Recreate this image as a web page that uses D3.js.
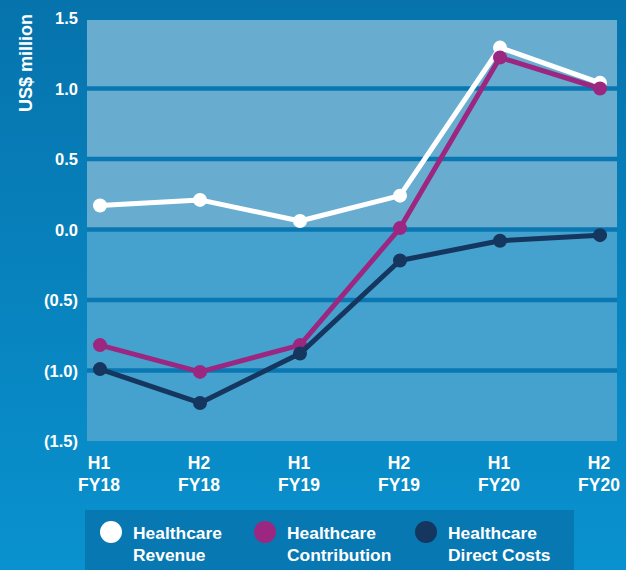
<!DOCTYPE html>
<html>
<head>
<meta charset="utf-8">
<script src="https://cdn.jsdelivr.net/npm/d3@7"></script>
<style>
  body { margin: 0; }
  svg { display: block; font-family: "Liberation Sans", Arial, sans-serif; }
</style>
</head>
<body>
<svg class="container"></svg>
<script>
const periods = ["H1 FY18", "H2 FY18", "H1 FY19", "H2 FY19", "H1 FY20", "H2 FY20"];
const revenue = [0.17, 0.21, 0.06, 0.24, 1.29, 1.04];
const contribution = [-0.82, -1.01, -0.82, 0.01, 1.22, 1.0];
const directCosts = [-0.99, -1.23, -0.88, -0.22, -0.08, -0.04];
const yTicks = [1.5, 1.0, 0.5, 0.0, -0.5, -1.0, -1.5];
const legendNames = [["Healthcare", "Revenue"], ["Healthcare", "Contribution"], ["Healthcare", "Direct Costs"]];

const width = 626;
const height = 570;

const svg = d3.select(".container").attr("width", width).attr("height", height);

// background gradient
const defs = svg.append("defs");
const bg = defs.append("linearGradient").attr("id", "bg").attr("x1", 0).attr("y1", 0).attr("x2", 0).attr("y2", 1);
bg.append("stop").attr("offset", "0%").attr("stop-color", "#0673ac");
bg.append("stop").attr("offset", "100%").attr("stop-color", "#0992cf");

svg.append("rect").attr("width", width).attr("height", height).attr("fill", "url(#bg)");

const xScale = d3.scalePoint().domain(periods).range([100, 600]);
const yScale = d3.scaleLinear().domain([-1.5, 1.5]).range([441, 18]);

const left = 87, right = 617;

// plot panels
svg.append("rect")
  .attr("x", left).attr("y", 20)
  .attr("width", right - left).attr("height", yScale(0) - 20)
  .attr("fill", "#68add0");
svg.append("rect")
  .attr("x", left).attr("y", yScale(0))
  .attr("width", right - left).attr("height", yScale(-1.5) - yScale(0))
  .attr("fill", "#45a2cf");

// gridlines
svg.selectAll(".grid")
  .data(yTicks.filter((d) => d < 1.5 && d > -1.5))
  .enter()
  .append("line")
  .attr("x1", left).attr("x2", right)
  .attr("y1", (d) => yScale(d)).attr("y2", (d) => yScale(d))
  .attr("stroke", "#0877b2")
  .attr("stroke-width", 4.5);

// y labels
const fmt = (d) => d < 0 ? `(${Math.abs(d).toFixed(1)})` : d.toFixed(1);
svg.selectAll(".ylab")
  .data(yTicks)
  .enter()
  .append("text")
  .attr("x", 78)
  .attr("y", (d) => yScale(d) + 6)
  .attr("text-anchor", "end")
  .attr("fill", "#fff")
  .attr("font-weight", "bold")
  .attr("font-size", 16.5)
  .text(fmt);

svg.append("text")
  .attr("transform", "translate(32, 63) rotate(-90)")
  .attr("text-anchor", "middle")
  .attr("fill", "#fff")
  .attr("font-weight", "bold")
  .attr("font-size", 18)
  .text("US$ million");

// x labels
const xl = svg.selectAll(".xlab")
  .data(periods)
  .enter()
  .append("text")
  .attr("text-anchor", "middle")
  .attr("fill", "#fff")
  .attr("font-weight", "bold")
  .attr("font-size", 17.5);
xl.append("tspan").attr("x", (d) => xScale(d) - 1).attr("y", 469).text((d) => d.split(" ")[0]);
xl.append("tspan").attr("x", (d) => xScale(d) - 1).attr("y", 491).text((d) => d.split(" ")[1]);

// series
const series = [
  { values: revenue, color: "#ffffff" },
  { values: contribution, color: "#9c2780" },
  { values: directCosts, color: "#15365f" }
];
const line = d3.line().x((d, i) => xScale(periods[i])).y((d) => yScale(d));

series.forEach((s) => {
  svg.append("path")
    .datum(s.values)
    .attr("d", line)
    .attr("fill", "none")
    .attr("stroke", s.color)
    .attr("stroke-width", 5)
    .attr("stroke-linejoin", "round");
  svg.selectAll(null)
    .data(s.values)
    .enter()
    .append("circle")
    .attr("cx", (d, i) => xScale(periods[i]))
    .attr("cy", (d) => yScale(d))
    .attr("r", 7)
    .attr("fill", s.color);
});

// legend
svg.append("rect")
  .attr("x", 85).attr("y", 510)
  .attr("width", 489).attr("height", 60)
  .attr("fill", "#0778b2");

const legendX = [111, 265, 426];
legendNames.forEach((n, i) => {
  svg.append("circle")
    .attr("cx", legendX[i]).attr("cy", 532)
    .attr("r", 11)
    .attr("fill", series[i].color);
  const t = svg.append("text")
    .attr("fill", "#fff")
    .attr("font-weight", "bold")
    .attr("font-size", 17.4);
  t.append("tspan").attr("x", legendX[i] + 22).attr("y", 539).text(n[0]);
  t.append("tspan").attr("x", legendX[i] + 22).attr("y", 561).text(n[1]);
});
</script>
</body>
</html>
